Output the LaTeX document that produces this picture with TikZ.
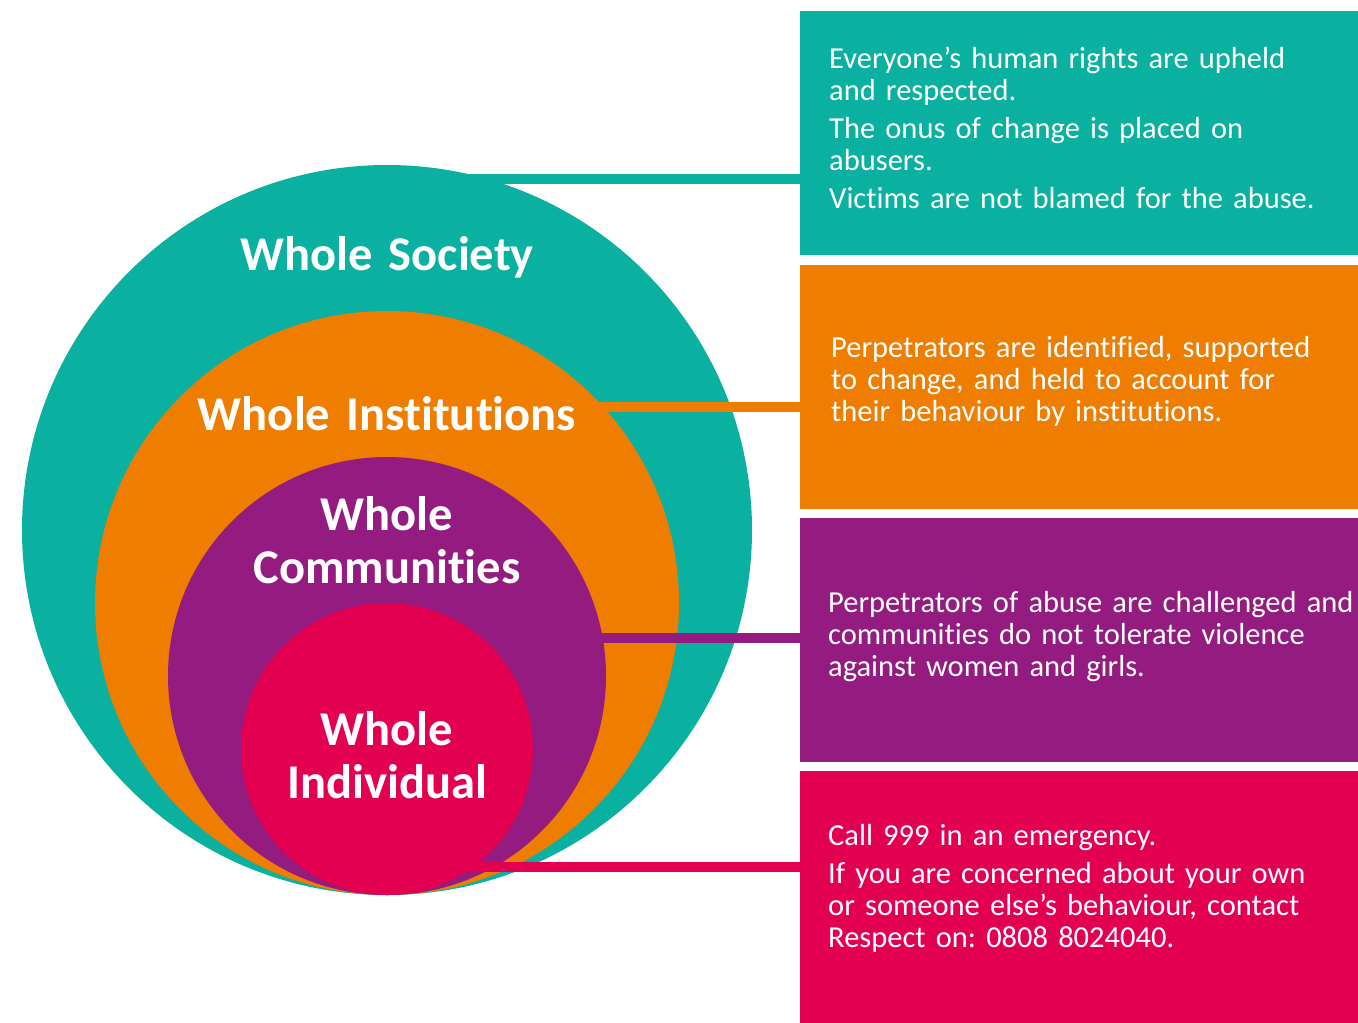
\documentclass[tikz,border=0pt]{standalone}
\usepackage{fontspec}
\setmainfont{Carlito}[Ligatures=NoCommon,WordSpace=0.7]
\usetikzlibrary{positioning}
\definecolor{societyteal}{RGB}{10,176,160}
\definecolor{instorange}{RGB}{239,125,0}
\definecolor{commpurple}{RGB}{148,27,128}
\definecolor{indivpink}{RGB}{228,0,80}
\frenchspacing
\begin{document}
\begin{tikzpicture}[x=1pt,y=-1pt,
    ring/.style={circle,inner sep=0pt,draw=none},
    panel/.style={rectangle,inner sep=0pt,minimum width=558pt,minimum height=244pt,anchor=north west},
    title/.style={text=white,font=\fontsize{48.5}{53}\bfseries\selectfont,align=center,text width=420pt,anchor=base,inner sep=0pt},
    blurb/.style={text=white,font=\fontsize{30.5}{32}\selectfont,align=left,text width=560pt,anchor=base west,inner sep=0pt}]
  \useasboundingbox (0,0) rectangle (1358,1023);
  % nested circles
  \node[ring,fill=societyteal,minimum size=730pt] (society) at (387,530) {};
  \node[ring,fill=instorange,minimum size=584pt] (institutions) at (387,603) {};
  \node[ring,fill=commpurple,minimum size=438pt] (communities) at (387,676) {};
  \node[ring,fill=indivpink,minimum size=292pt] (individual) at (387,749) {};
  % panels
  \node[panel,fill=societyteal] (societybox) at (800,11) {};
  \node[panel,fill=instorange,below=9pt of societybox] (institutionsbox) {};
  \node[panel,fill=commpurple,below=9pt of institutionsbox] (communitiesbox) {};
  \node[panel,fill=indivpink,minimum height=253pt,below=9pt of communitiesbox] (individualbox) {};
  \begin{scope}[line width=10pt]
    \draw[societyteal] ([xshift=-20pt]society.74) -- (society.74 -| societybox.west);
    \draw[instorange] ([xshift=-20pt]institutions.42) -- (institutions.42 -| institutionsbox.west);
    \draw[commpurple] ([xshift=-20pt]communities.10) -- (communities.10 -| communitiesbox.west);
    \draw[indivpink] ([xshift=-20pt]individual.-54) -- (individual.-54 -| individualbox.west);
  \end{scope}
  % titles
  \node[title] (societytitle) at (387,270) {Whole Society};
  \node[title] (institutionstitle) at (387,430) {Whole Institutions};
  \node[title] (communitiestitle) at (387,530) {Whole\\Communities};
  \node[title] (individualtitle) at (387,745) {Whole\\Individual};
  % panel texts
  \node[blurb] (societytext) at (829,68) {Everyone’s human rights are upheld\\and respected.\\[6pt]The onus of change is placed on\\abusers.\\[6pt]Victims are not blamed for the abuse.};
  \node[blurb] (institutionstext) at (831,357) {Perpetrators are identified, supported\\to change, and held to account for\\their behaviour by institutions.};
  \node[blurb] (communitiestext) at (828,612) {Perpetrators of abuse are challenged and\\communities do not tolerate violence\\against women and girls.};
  \node[blurb] (individualtext) at (828,845) {Call 999 in an emergency.\\[6pt]If you are concerned about your own\\or someone else’s behaviour, contact\\Respect on: 0808 8024040.};
\end{tikzpicture}
\end{document}
